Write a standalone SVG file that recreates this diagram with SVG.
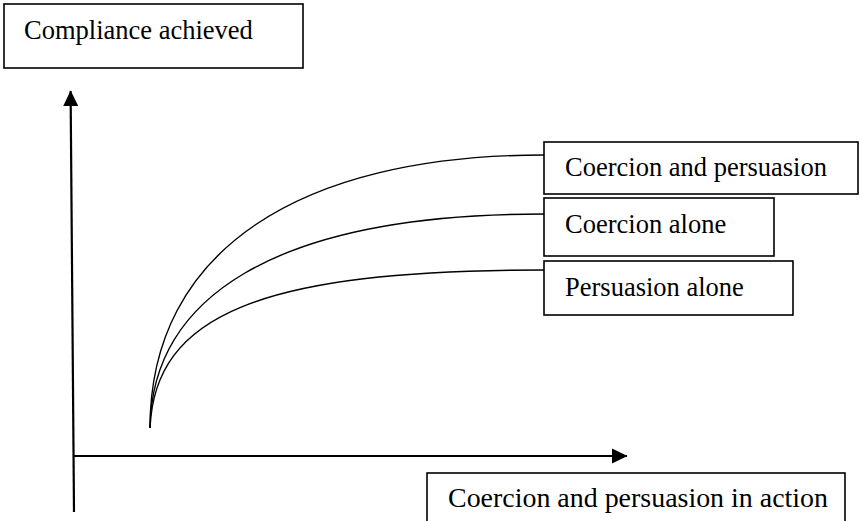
<svg xmlns="http://www.w3.org/2000/svg" width="862" height="521" viewBox="0 0 862 521">
<style>
.box{fill:#fff;stroke:#000;stroke-width:1.6}
.lbl{font-family:"Liberation Serif","Times New Roman",serif;font-size:26.5px;fill:#000}
.axis{fill:none;stroke:#000;stroke-width:2.2}
.curve{fill:none;stroke:#000;stroke-width:1.4}
</style>
<defs>
<marker id="arr" markerUnits="userSpaceOnUse" markerWidth="16" markerHeight="16" viewBox="0 0 16 16" refX="15" refY="8" orient="auto">
<path d="M0,0.5 L15.5,8 L0,15.5 Z" fill="#000"/>
</marker>
</defs>
<g id="connectors">
<line class="axis" x1="74" y1="512" x2="70.6" y2="91" marker-end="url(#arr)"/>
<line class="axis" x1="74" y1="456" x2="627" y2="456" marker-end="url(#arr)"/>
<path class="curve" d="M150,428 C150,250 300,155 544,155"/>
<path class="curve" d="M150,428 C152,300 270,214 544,214"/>
<path class="curve" d="M150,428 C155,315 260,270 544,270"/>
</g>
<g id="y-label">
<rect class="box" x="4" y="4" width="299" height="64"/>
<text class="lbl" x="24" y="39">Compliance achieved</text>
</g>
<g id="coercion-persuasion">
<rect class="box" x="544" y="142" width="314" height="52"/>
<text class="lbl" x="565" y="176">Coercion and persuasion</text>
</g>
<g id="coercion-alone">
<rect class="box" x="544" y="198" width="230" height="58"/>
<text class="lbl" x="565" y="233">Coercion alone</text>
</g>
<g id="persuasion-alone">
<rect class="box" x="544" y="261" width="249" height="54"/>
<text class="lbl" x="565" y="296">Persuasion alone</text>
</g>
<g id="x-label">
<rect class="box" x="427" y="473" width="418" height="60"/>
<text class="lbl" x="448" y="507" textLength="380" lengthAdjust="spacingAndGlyphs">Coercion and persuasion in action</text>
</g>
</svg>
